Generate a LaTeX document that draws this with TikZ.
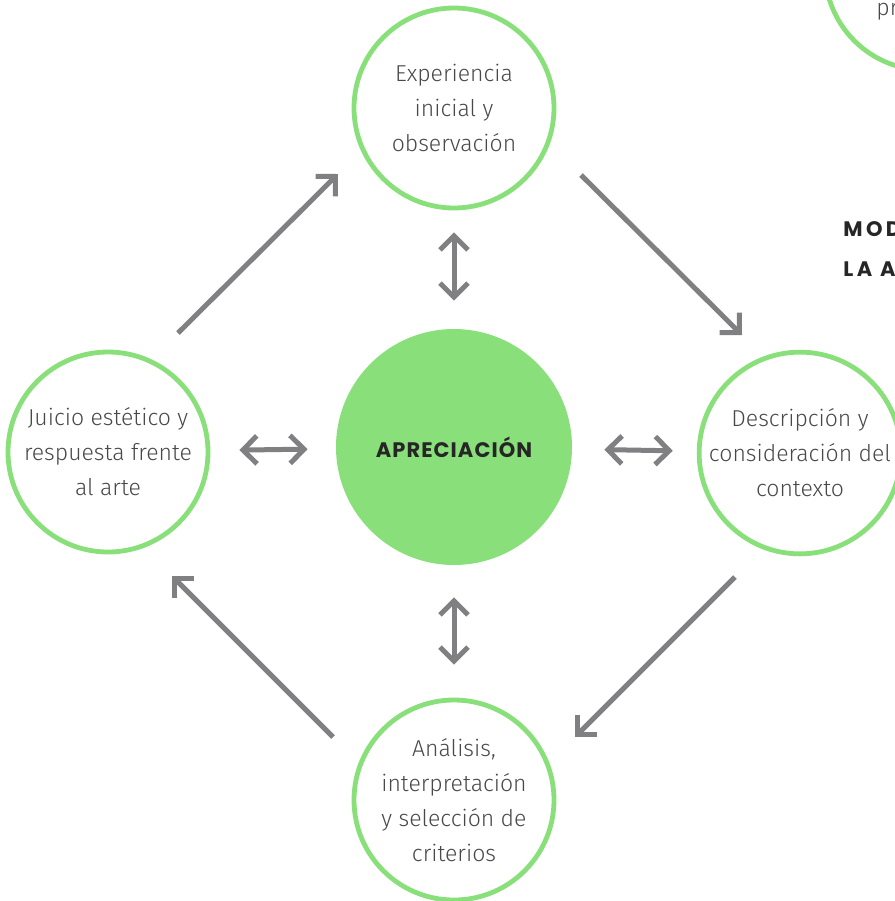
\documentclass[tikz,border=0pt]{standalone}
\usepackage{fontspec}
\setmainfont{Fira Sans}[UprightFont=* Light]
\newfontfamily\headfont{Poppins}[LetterSpace=5]
\newfontfamily\titlefont{Poppins}[LetterSpace=16]
\usetikzlibrary{arrows.meta}

\definecolor{leafgreen}{RGB}{137,224,122}
\definecolor{arrowgray}{RGB}{128,128,131}
\definecolor{textgray}{RGB}{72,72,72}

\begin{document}
\begin{tikzpicture}[x=0.5pt,y=-0.5pt,
    stage/.style={circle,draw=leafgreen,line width=2.4pt,minimum size=100pt,inner sep=0pt,
      align=center,text=textgray,font=\fontsize{11.5}{17.5}\selectfont},
    core/.style={circle,fill=leafgreen,minimum size=118pt,inner sep=0pt,
      font=\headfont\bfseries\fontsize{10.5}{12}\selectfont,text=black!85},
    heading/.style={anchor=base west,inner sep=0pt,font=\titlefont\bfseries\fontsize{10.5}{12}\selectfont,text=black!85},
    flow/.style={draw=arrowgray,line width=2.5pt,-{Straight Barb[length=7pt,width=14pt]}},
    swap/.style={draw=arrowgray,line width=2.5pt,
      {Straight Barb[length=7pt,width=14pt]}-{Straight Barb[length=7pt,width=14pt]}}]
    \useasboundingbox (0,0) rectangle (895,901);

    % the five stages
    \node[core] (core) at (454,447) {APRECIACIÓN};
    \node[stage] (top) at (454,108) {Experiencia\\inicial y\\observación};
    \node[stage] (right) at (800,453) {Descripción y\\consideración del\\contexto};
    \node[stage] (bottom) at (454,800) {Análisis,\\interpretación\\y selección de\\criterios};
    \node[stage] (left) at (108,452) {Juicio estético y\\respuesta frente\\al arte};
    \node[stage] (corner) at (925,-30) {};
    \node[anchor=base west,inner sep=0pt,text=textgray,font=\fontsize{11.5}{13}\selectfont] (cornertext) at (876,15) {pr};

    % title, cut by the edge
    \node[heading] (title1) at (843,236) {MOD};
    \node[heading] (title2) at (843,276) {LA A};

    % cycle arrows
    \coordinate (lt0) at (178,333); \coordinate (lt1) at (338,174);
    \coordinate (tr0) at (581,175); \coordinate (tr1) at (742,335);
    \coordinate (rb0) at (735,577); \coordinate (rb1) at (575,737);
    \coordinate (bl0) at (333,737); \coordinate (bl1) at (172,576);
    \draw[flow] (lt0) -- (lt1);
    \draw[flow] (tr0) -- (tr1);
    \draw[flow] (rb0) -- (rb1);
    \draw[flow] (bl0) -- (bl1);

    % links with the centre
    \draw[swap,shorten <=11pt,shorten >=14pt] (top) -- (core);
    \draw[swap,shorten <=16pt,shorten >=16.5pt] (core) -- (bottom);
    \draw[swap,shorten <=14.5pt,shorten >=14pt] (left) -- (core);
    \draw[swap,shorten <=16pt,shorten >=12pt] (core) -- (right);
\end{tikzpicture}
\end{document}
